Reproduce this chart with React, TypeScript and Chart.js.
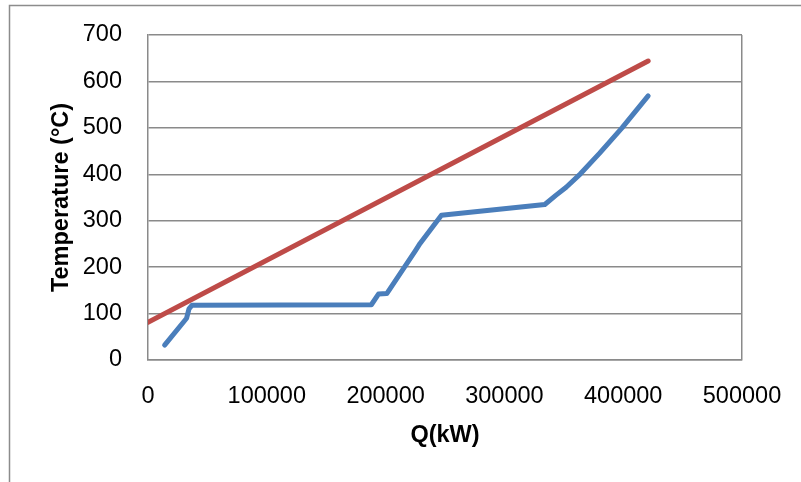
import React, { useEffect, useRef } from "react";
import { Chart, registerables } from "chart.js";

Chart.register(...registerables);

// Blue series: Q (kW) and Temperature (°C)
const blueQ = [14000, 32500, 34500, 37000, 188000, 194000, 201000, 225000, 229000, 247000, 334000, 343000, 352000, 364000, 380000, 399000, 421000];
const blueT = [32, 90, 110, 118, 119, 142, 143, 235, 251, 312, 335, 354, 372, 401, 445, 500, 569];

// Red series
const redQ = [0, 421000];
const redT = [81, 644];

const yTicks = [0, 100, 200, 300, 400, 500, 600, 700];
const xTicks = [0, 100000, 200000, 300000, 400000, 500000];

const xTitle = "Q(kW)";
const yTitle = "Temperature (°C)";

const GRID = "#8a8a8a";
const FONT = "'Liberation Sans', Arial, sans-serif";

export default function App() {
  const ref = useRef<HTMLCanvasElement | null>(null);

  useEffect(() => {
    if (!ref.current) return;
    const outerBorder = {
      id: "outerBorder",
      beforeDraw(chart: any) {
        const c = chart.ctx;
        c.save();
        c.strokeStyle = "#8c8c8c";
        c.lineWidth = 1.5;
        c.strokeRect(9.5, 5.5, 1000, 1000);
        c.restore();
      },
    };
    const chart = new Chart(ref.current, {
      type: "line",
      data: {
        datasets: [
          {
            label: "blue",
            data: blueQ.map((q, i) => ({ x: q, y: blueT[i] })),
            borderColor: "#4A7EBB",
            borderWidth: 5,
            pointRadius: 0,
            tension: 0,
            borderCapStyle: "round",
            borderJoinStyle: "round",
            fill: false,
          },
          {
            label: "red",
            data: redQ.map((q, i) => ({ x: q, y: redT[i] })),
            borderColor: "#BE4B48",
            borderWidth: 5,
            pointRadius: 0,
            tension: 0,
            borderCapStyle: "round",
            borderJoinStyle: "round",
            fill: false,
          },
        ],
      },
      options: {
        responsive: false,
        animation: false,
        layout: { padding: { top: 35, right: 59, left: 0, bottom: 0 } },
        plugins: { legend: { display: false }, tooltip: { enabled: false } },
        scales: {
          x: {
            type: "linear",
            min: 0,
            max: 500000,
            afterFit: (s: any) => {
              s.height = 122;
              s.paddingLeft = 0;
              s.paddingRight = 0;
            },
            afterBuildTicks: (s: any) => {
              s.ticks = xTicks.map((v) => ({ value: v }));
            },
            ticks: {
              padding: 22,
              color: "#000",
              font: { family: FONT, size: 23.5 },
              maxRotation: 0,
              callback: (v: any) => String(v),
            },
            grid: {
              drawTicks: false,
              lineWidth: 1.5,
              color: (ctx: any) => (ctx.tick && ctx.tick.value === 500000 ? GRID : "rgba(0,0,0,0)"),
            },
            border: { display: true, color: GRID, width: 1.5 },
            title: {
              display: true,
              text: xTitle,
              color: "#000",
              font: { family: FONT, size: 23.5, weight: "bold" },
              padding: { top: 0, bottom: 32 },
            },
          },
          y: {
            type: "linear",
            min: 0,
            max: 700,
            afterFit: (s: any) => {
              s.width = 148;
              s.paddingTop = 0;
              s.paddingBottom = 0;
            },
            afterBuildTicks: (s: any) => {
              s.ticks = yTicks.map((v) => ({ value: v }));
            },
            ticks: {
              padding: 26,
              color: "#000",
              font: { family: FONT, size: 23.5 },
              callback: (v: any) => String(v),
            },
            grid: { drawTicks: false, color: GRID, lineWidth: 1.5 },
            border: { display: true, color: GRID, width: 1.5 },
            title: {
              display: true,
              text: yTitle,
              color: "#000",
              font: { family: FONT, size: 23.5, weight: "bold" },
              padding: { top: 47, bottom: 0 },
            },
          },
        },
      },
      plugins: [outerBorder],
    } as any);
    return () => chart.destroy();
  }, []);

  return (
    <canvas
      ref={ref}
      width={801}
      height={482}
      style={{ position: "absolute", left: 0, top: 0, width: 801, height: 482 }}
    />
  );
}
